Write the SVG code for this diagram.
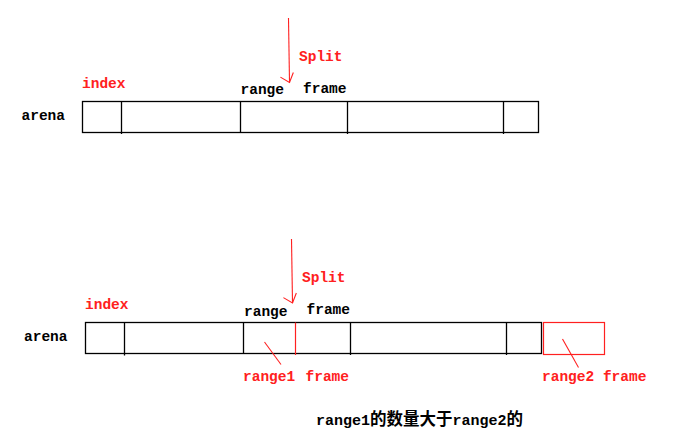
<svg xmlns="http://www.w3.org/2000/svg" width="674" height="441" viewBox="0 0 674 441">
<defs>
<style>
.t{font-family:"Liberation Mono","Noto Sans CJK SC",monospace;font-size:14.5px;font-weight:bold}
.k{fill:#000}
.r{fill:#ff2020}
.box{fill:none;stroke:#000;stroke-width:1.3}
.div{stroke:#000;stroke-width:1.3}
.rl{stroke:#ff2020;stroke-width:1.1;fill:none}
</style>
<marker id="vh" markerUnits="userSpaceOnUse" orient="auto" markerWidth="24" markerHeight="24" viewBox="-12 -12 24 24" refX="0" refY="0" overflow="visible">
<path d="M-10,-4 L0,0 L-5.5,9" fill="none" stroke="#ff2020" stroke-width="1.1"/>
</marker>
</defs>
<rect width="674" height="441" fill="#fff"/>

<g id="arena-top">
<text class="t k" x="21.5" y="120">arena</text>
<rect class="box" x="82.5" y="101.5" width="456" height="31"/>
<line class="div" x1="121.5" y1="101.5" x2="121.5" y2="134"/>
<line class="div" x1="240.5" y1="101.5" x2="240.5" y2="133"/>
<line class="div" x1="347.5" y1="101.5" x2="347.5" y2="134"/>
<line class="div" x1="503.5" y1="101.5" x2="503.5" y2="134"/>
</g>
<g id="labels-top">
<text class="t r" x="82" y="88">index</text>
<text class="t k" x="240.5" y="94">range</text>
<text class="t k" x="303" y="93">frame</text>
<text class="t r" x="299" y="61">Split</text>
</g>

<g id="arena-bottom">
<text class="t k" x="24" y="341">arena</text>
<rect class="box" x="85.5" y="322.5" width="456" height="31"/>
<line class="div" x1="124.5" y1="322.5" x2="124.5" y2="355.5"/>
<line class="div" x1="243.5" y1="322.5" x2="243.5" y2="354"/>
<line class="div" x1="350.5" y1="322.5" x2="350.5" y2="355"/>
<line class="div" x1="506.5" y1="322.5" x2="506.5" y2="355"/>
<line x1="295.5" y1="322.5" x2="295.5" y2="355" stroke="#ff2020" stroke-width="1.2"/>
</g>
<g id="range2-frame">
<rect x="543.5" y="322.5" width="61" height="32" fill="none" stroke="#ff2020" stroke-width="1.2"/>
</g>
<g id="labels-bottom">
<text class="t r" x="85" y="308.5">index</text>
<text class="t k" x="244" y="315.5">range</text>
<text class="t k" x="306.5" y="313.5">frame</text>
<text class="t r" x="302" y="282">Split</text>
<text class="t r" x="243" y="380.5">range1</text>
<text class="t r" x="305.5" y="381">frame</text>
<text class="t r" x="542" y="381">range2 frame</text>
<text class="t k" x="316" y="425" style="font-size:15px">range1<tspan style="font-size:16.5px">的数量大于</tspan>range2<tspan style="font-size:16.5px">的</tspan></text>
</g>

<g id="connectors">
<line class="rl" x1="288.5" y1="18" x2="289.5" y2="82.5" marker-end="url(#vh)"/>
<line class="rl" x1="291.5" y1="239" x2="292.5" y2="303" marker-end="url(#vh)"/>
<line class="rl" x1="264.5" y1="342" x2="281" y2="364.5"/>
<line class="rl" x1="562.5" y1="339" x2="578.5" y2="367.5"/>
</g>
</svg>
